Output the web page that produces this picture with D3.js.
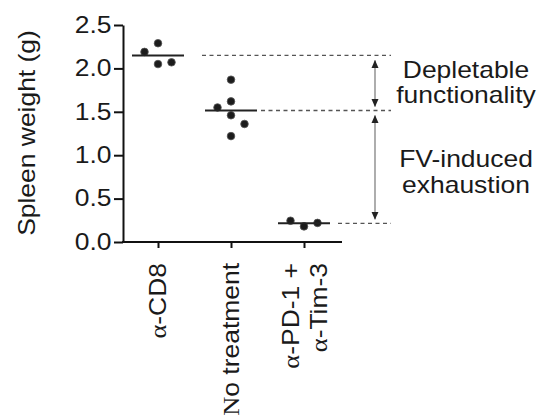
<!DOCTYPE html>
<html>
<head>
<meta charset="utf-8">
<script src="https://cdn.jsdelivr.net/npm/d3@7"></script>
<style>
  body { margin: 0; background: #fff; }
  text { font-family: 'Liberation Sans', Arial, sans-serif; fill: #1a1a1a; }
</style>
</head>
<body>
<div id="chart"></div>
<script>
// values
const categories = ['α-CD8', 'No treatment', 'α-PD-1 + α-Tim-3'];
const labelLines = [['α-CD8'], ['No treatment'], ['α-PD-1 +', 'α-Tim-3']];
const cd8 = [2.19, 2.29, 2.05, 2.07];
const noTreatment = [1.87, 1.62, 1.55, 1.46, 1.36, 1.22];
const pdTim = [0.245, 0.18, 0.22];
const medians = [2.15, 1.515, 0.215];
// side-by-side slot of each dot (-1 left, 0 centre, 1 right)
const slots = [[-1, 0, 0, 1], [0, 0, -1, 0, 1, 0], [-1, 0, 1]];
const yTicks = [0, 0.5, 1.0, 1.5, 2.0, 2.5];
const notes = [['Depletable', 'functionality'], ['FV-induced', 'exhaustion']];

const width = 537;
const height = 417;
const fs = 23;
const sx = 1.15; // the figure's type is wider than Arial

const svg = d3.select('#chart')
  .append('svg')
  .attr('width', width)
  .attr('height', height);

const x = d3.scalePoint().domain(categories).range([158, 304]);
const y = d3.scaleLinear().domain([0, 2.5]).range([242, 25]);

// y axis
const yAxis = svg.append('g')
  .attr('transform', 'translate(123,0)')
  .call(d3.axisLeft(y).tickValues(yTicks).tickSize(9).tickSizeOuter(0).tickPadding(1).tickFormat(d3.format('.1f')));
yAxis.select('.domain').attr('stroke', '#111').attr('stroke-width', 2);
yAxis.selectAll('.tick line').attr('stroke', '#111').attr('stroke-width', 2);
yAxis.selectAll('.tick text')
  .attr('font-size', fs)
  .attr('font-family', null)
  .attr('fill', '#1a1a1a')
  .attr('transform', `scale(${sx},1)`);

// x axis
const xAxis = svg.append('g')
  .attr('transform', 'translate(0,242)')
  .call(d3.axisBottom(x).tickSize(6).tickFormat(''));
xAxis.select('.domain').remove();
xAxis.selectAll('.tick line').attr('stroke', '#111').attr('stroke-width', 2);
xAxis.append('line')
  .attr('x1', 122).attr('x2', 342)
  .attr('stroke', '#111').attr('stroke-width', 2);

// category labels, rotated
categories.forEach((c, i) => {
  const lines = labelLines[i];
  lines.forEach((ln, j) => {
    const off = lines.length === 1 ? 8 : -5 + j * 28;
    const t = svg.append('text')
      .attr('transform', `translate(${x(c) + off},263) rotate(-90) scale(${sx},1)`)
      .attr('text-anchor', 'end')
      .attr('font-size', fs);
    t.append('tspan').attr('font-family', "'Liberation Serif', 'Times New Roman', serif").text(ln[0]);
    t.append('tspan').text(ln.slice(1));
  });
});

// axis title
svg.append('text')
  .attr('transform', `translate(35,133) rotate(-90) scale(${sx},1)`)
  .attr('text-anchor', 'middle')
  .attr('font-size', fs)
  .text('Spleen weight (g)');

// dots
const groups = [cd8, noTreatment, pdTim];
const dotGap = 13.5;
groups.forEach((vals, i) => {
  svg.append('g')
    .selectAll('circle')
    .data(vals)
    .enter()
    .append('circle')
    .attr('cx', (d, k) => x(categories[i]) + slots[i][k] * dotGap)
    .attr('cy', (d) => y(d))
    .attr('r', 3.8)
    .style('fill', '#1c1c1c')
    .style('stroke', '#555')
    .style('stroke-width', 0.8);
});

// median bars
const halfBar = 26;
svg.append('g')
  .selectAll('line')
  .data(medians)
  .enter()
  .append('line')
  .attr('x1', (d, i) => x(categories[i]) - halfBar)
  .attr('x2', (d, i) => x(categories[i]) + halfBar)
  .attr('y1', (d) => y(d))
  .attr('y2', (d) => y(d))
  .style('stroke', '#222')
  .style('stroke-width', 2);

// dashed guides out to the arrows
const dashGap = [18, 4, 8];
svg.append('g')
  .selectAll('line')
  .data(medians)
  .enter()
  .append('line')
  .attr('x1', (d, i) => x(categories[i]) + halfBar + dashGap[i])
  .attr('x2', 391)
  .attr('y1', (d) => y(d))
  .attr('y2', (d) => y(d))
  .style('stroke', '#555')
  .style('stroke-width', 1.4)
  .style('stroke-dasharray', '4,3.5');

// arrows
svg.append('defs')
  .append('marker')
  .attr('id', 'head')
  .attr('viewBox', '0 0 8 8')
  .attr('refX', 7.5)
  .attr('refY', 4)
  .attr('markerWidth', 8)
  .attr('markerHeight', 8)
  .attr('markerUnits', 'userSpaceOnUse')
  .attr('orient', 'auto-start-reverse')
  .append('path')
  .attr('d', 'M0,0.5L8,4L0,7.5Z')
  .style('fill', '#222');

const arrowX = 375;
[[medians[0], medians[1]], [medians[1], medians[2]]].forEach(([a, b]) => {
  svg.append('line')
    .attr('x1', arrowX).attr('x2', arrowX)
    .attr('y1', y(a) + 5).attr('y2', y(b) - 4)
    .style('stroke', '#777')
    .style('stroke-width', 1.2)
    .attr('marker-start', 'url(#head)')
    .attr('marker-end', 'url(#head)');
});

// side notes
const noteY = [[78, 103], [167, 193]];
notes.forEach((lines, i) => {
  lines.forEach((ln, j) => {
    svg.append('text')
      .attr('transform', `translate(466,${noteY[i][j]}) scale(${sx},1)`)
      .attr('text-anchor', 'middle')
      .attr('font-size', fs)
      .text(ln);
  });
});
</script>
</body>
</html>
